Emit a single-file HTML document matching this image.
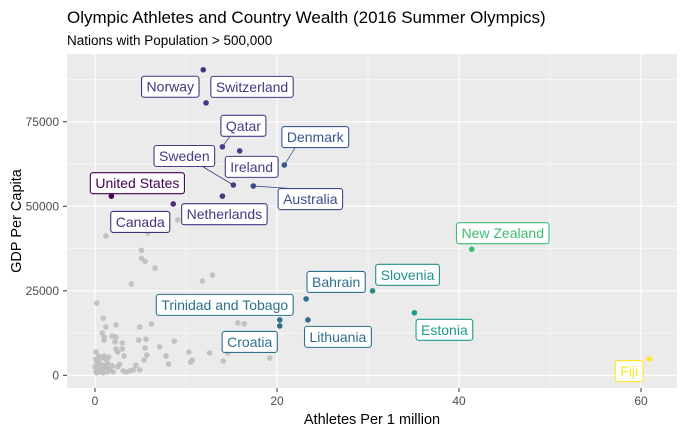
<!DOCTYPE html>
<html><head><meta charset="utf-8">
<style>
html,body{margin:0;padding:0;background:#fff;}
svg text{font-family:"Liberation Sans",Arial,sans-serif;}
</style></head>
<body>
<svg id="chart" width="685" height="434" xmlns="http://www.w3.org/2000/svg">
<text x="67" y="23" font-size="17" fill="#000">Olympic Athletes and Country Wealth (2016 Summer Olympics)</text>
<text x="67" y="45" font-size="13.5" fill="#000">Nations with Population &gt; 500,000</text>
<rect x="67" y="54" width="610" height="334" fill="#ebebeb"/>
<g id="grid"></g><g id="gray"></g><g id="lab"></g>
<text x="372" y="424" font-size="14.5" text-anchor="middle" fill="#000">Athletes Per 1 million</text>
<text transform="translate(21,221) rotate(-90)" font-size="14.5" text-anchor="middle" fill="#000">GDP Per Capita</text>
</svg>
<script>
const xTicks=[0,20,40,60];
const yTicks=[0,25000,50000,75000];
const grayX=[1.2,5.8,9.1,5.1,5.1,5.5,6.6,4.0,11.8,12.9,0.2,0.9,1.2,2.3,4.9,6.2,15.7,16.4,0.8,1.0,1.0,1.9,2.3,2.2,3.0,4.8,5.6,8.7,7.1,5.5,10.3,12.6,14.6,19.2,14.1,10.7,10.5,8.1,7.8,5.7,5.4,4.9,4.5,3.8,3.2,3.0,2.3,2.5,2.7,3.1,0.1,0.4,0.7,1.0,1.2,1.5,0.2,0.5,0.9,1.2,0.0,0.3,0.7,1.1,1.4,1.6,1.9,0.1,0.2,0.5,0.9,0.1,0.4,2.0,2.5,3.4,4.2,1.4,0.8];
const grayY=[41.2,42.1,46.0,37.0,34.6,33.7,31.7,27.0,27.9,29.7,21.4,16.9,14.3,14.9,14.3,15.2,15.5,15.2,12.5,11.3,10.4,11.6,11.3,9.9,9.6,10.4,10.7,10.1,8.4,8.1,6.9,6.6,6.6,5.1,4.2,4.5,3.9,3.3,5.7,6.0,4.5,1.6,3.0,1.3,5.7,7.8,7.8,6.9,3.3,1.3,6.9,5.7,5.1,5.7,4.8,5.4,3.9,3.3,3.0,2.8,2.5,1.9,1.6,2.2,3.6,1.9,2.8,1.0,0.7,1.0,0.7,4.8,3.9,1.0,2.5,1.0,1.6,1.0,1.9].map(v=>v*1000);
const countries=["Norway","Switzerland","Qatar","Ireland","Denmark","Sweden","Australia","United States","Netherlands","Canada","New Zealand","Slovenia","Bahrain","Trinidad and Tobago","Croatia","Lithuania","Estonia","Fiji"];
const cX=[11.9,12.2,14.0,15.9,20.8,15.2,17.4,1.8,14.0,8.6,41.4,30.5,23.2,20.3,20.3,23.4,35.1,60.9];
const cY=[90400,80600,67600,66400,62200,56300,56000,53000,53000,50700,37300,25000,22600,16400,14600,16400,18500,4800];
const colors=["#46337e","#453781","#433e85","#433e85","#38598c","#433e85","#3e4a89","#440154","#453781","#472d7b","#3dbc74","#21908d","#2d708e","#2c728e","#2d708e","#2d708e","#1f9a8a","#fde725"];
const offX=[-33,46,21,12,31,-49,57,26,2,-33,31,35,30,-55,-30,30,30,-20];
const offY=[17,-16,-21,16,-28,-29,13,-13,18,18,-16,-16,-17,-15,16,17,17,12];
const lines=[false,false,true,false,true,true,true,false,false,false,false,false,false,false,false,false,false,false];
const NS="http://www.w3.org/2000/svg";
const sx=v=>95+v*9.1, sy=v=>375.3-v*84.5/25000;
function mk(t,a,p){const e=document.createElementNS(NS,t);for(const k in a)e.setAttribute(k,a[k]);p.appendChild(e);return e;}
const grid=document.getElementById('grid');
[12500,37500,62500,87500].forEach(v=>{const l=mk('line',{x1:67,x2:677,y1:sy(v),y2:sy(v),stroke:'#fff','stroke-width':0.5},grid);});
[10,30,50].forEach(v=>{const l=mk('line',{x1:sx(v),x2:sx(v),y1:54,y2:388,stroke:'#fff','stroke-width':0.5},grid);});
const svg=document.getElementById('chart');
yTicks.forEach(v=>{const l=mk('line',{x1:67,x2:677,y1:sy(v),y2:sy(v),stroke:'#fff','stroke-width':1.1},grid);
const tk=mk('line',{x1:63,x2:67,y1:sy(v),y2:sy(v),stroke:'#333','stroke-width':1},svg);
const t=mk('text',{x:59,y:sy(v)+4,'font-size':12,'text-anchor':'end',fill:'#4d4d4d'},svg);t.textContent=v;});
xTicks.forEach(v=>{const l=mk('line',{x1:sx(v),x2:sx(v),y1:54,y2:388,stroke:'#fff','stroke-width':1.1},grid);
const tk=mk('line',{x1:sx(v),x2:sx(v),y1:388,y2:392,stroke:'#333','stroke-width':1},svg);
const t=mk('text',{x:sx(v),y:405,'font-size':12,'text-anchor':'middle',fill:'#4d4d4d'},svg);t.textContent=v;});
const gg=document.getElementById('gray');
grayX.forEach((x,i)=>{const c=mk('circle',{cx:sx(x),cy:sy(grayY[i]),r:2.8,fill:'#bebebe','fill-opacity':0.9},gg);});
const lg=document.getElementById('lab');
countries.forEach((n,i)=>{const px=sx(cX[i]),py=sy(cY[i]);const lx=px+offX[i],ly=py+offY[i];
const t=mk('text',{x:lx,y:ly+5,'font-size':14,'text-anchor':'middle',fill:colors[i]},lg);t.textContent=n;
const w=t.getComputedTextLength();
const r=mk('rect',{x:lx-w/2-5,y:ly-10.5,width:w+10,height:21,rx:2.5,fill:'#fff',stroke:colors[i],'stroke-width':1.1},lg);

lg.insertBefore(r,t);
if(lines[i]){const l=mk('line',{x1:px,y1:py,x2:lx+(offX[i]<0?w/2+5:-w/2-5)*0.6,y2:ly+(offY[i]<0?10.5:-10.5),stroke:colors[i],'stroke-width':0.8},lg);lg.insertBefore(l,r);}

const c=mk('circle',{cx:px,cy:py,r:2.8,fill:colors[i]},lg);});
</script>
</body></html>
